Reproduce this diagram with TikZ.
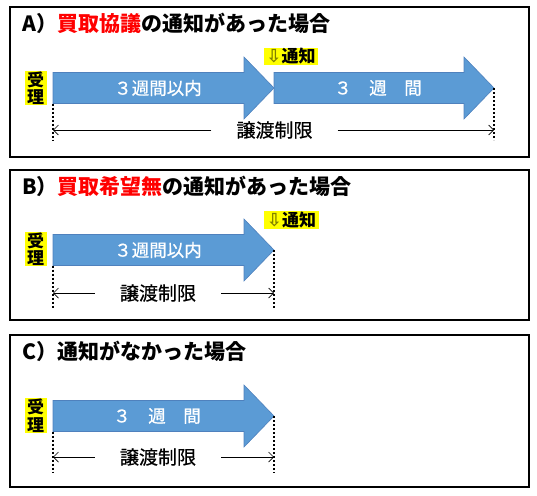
\documentclass[tikz,border=0pt]{standalone}
\usepackage{fontspec}
\setmainfont{Noto Sans CJK JP}
\newfontfamily\midfont[FakeBold=0.6]{Noto Sans CJK JP}
\newfontfamily\symfont{DejaVu Sans}
\usetikzlibrary{arrows.meta,positioning}
\definecolor{arrowblue}{HTML}{5B9BD5}
\definecolor{arrowedge}{HTML}{4F81BD}
\definecolor{mark}{HTML}{FFFF00}
\definecolor{keyword}{HTML}{FF0000}
\definecolor{markarrow}{HTML}{7F7F00}

% blue period arrow: from x, to x, middle y, name
\newcommand{\periodarrow}[4]{%
  \draw[period] (#1,#3-15.5) -- (#2-30,#3-15.5) -- (#2-30,#3-31) -- (#2,#3)
    -- (#2-30,#3+31) -- (#2-30,#3+15.5) -- (#1,#3+15.5) -- cycle;
  \coordinate (#4b) at (#1,#3+15.5);
  \coordinate (#4e) at (#2,#3);}

\begin{document}
\begin{tikzpicture}[x=1pt, y=-1pt,
  panel/.style={draw, line width=2pt},
  heading/.style={anchor=west, inner sep=0pt, font=\bfseries\fontsize{21}{22}\selectfont},
  period/.style={fill=arrowblue, draw=arrowedge, line width=0.6pt},
  inlabel/.style={text=white, font=\midfont\fontsize{17.5}{19}\selectfont},
  stamp/.style={fill=mark, inner xsep=2.5pt, inner ysep=0.5pt, align=center, font=\bfseries\fontsize{17}{17.5}\selectfont},
  limit/.style={inner xsep=25pt, font=\midfont\fontsize{19}{20}\selectfont},
  bound/.style={dotted, line width=2pt},
  dimline/.style={-{Straight Barb[length=5pt,width=10pt]}, line width=0.7pt}]
\useasboundingbox (0,0) rectangle (537,495);

% A
\draw[panel] (9.5,7) rectangle (529,157);
\node[heading] (tA) at (22,23.5) {A）\textcolor{keyword}{買取協議}の通知があった場合};
\periodarrow{53}{274}{88}{pA1}
\periodarrow{274}{494}{88}{pA2}
\node[inlabel] (wA1) at (158,88) {３週間以内};
\node[inlabel] (wA2) at (378,88) {３　週　間};
\node[stamp] (rA) at (35.5,88) {受\\理};
\node[stamp] (nA) at (291,56.5) {{\symfont\color{markarrow}\fontsize{18}{18}\selectfont⇩}通知};
\coordinate (bA1) at (53,140); \coordinate (bA2) at (494,140);
\draw[bound] (pA1b) -- (bA1); \draw[bound] (pA2e) -- (bA2);
\node[limit] (lA) at (274.5,130) {譲渡制限};
\coordinate (dA1) at (53,130); \coordinate (dA2) at (494,130);
\draw[dimline] (lA) -- (dA1); \draw[dimline] (lA) -- (dA2);

% B
\draw[panel] (9.5,170) rectangle (529,320);
\node[heading] (tB) at (22,186) {B）\textcolor{keyword}{買取希望無}の通知があった場合};
\periodarrow{53}{274}{250}{pB}
\node[inlabel] (wB) at (158,250) {３週間以内};
\node[stamp] (rB) at (35.5,249) {受\\理};
\node[stamp] (nB) at (291.5,220) {{\symfont\color{markarrow}\fontsize{18}{18}\selectfont⇩}通知};
\coordinate (bB1) at (53,308); \coordinate (bB2) at (274,308);
\draw[bound] (pBb) -- (bB1); \draw[bound] (pBe) -- (bB2);
\node[limit] (lB) at (158,293) {譲渡制限};
\coordinate (dB1) at (53,293); \coordinate (dB2) at (274,293);
\draw[dimline] (lB) -- (dB1); \draw[dimline] (lB) -- (dB2);

% C
\draw[panel] (9.5,335) rectangle (529,487);
\node[heading] (tC) at (22,351) {C）通知がなかった場合};
\periodarrow{53}{274}{416}{pC}
\node[inlabel] (wC) at (157,416) {３　週　間};
\node[stamp] (rC) at (35.5,415.5) {受\\理};
\coordinate (bC1) at (53,473); \coordinate (bC2) at (274,473);
\draw[bound] (pCb) -- (bC1); \draw[bound] (pCe) -- (bC2);
\node[limit] (lC) at (158,457) {譲渡制限};
\coordinate (dC1) at (53,457); \coordinate (dC2) at (274,457);
\draw[dimline] (lC) -- (dC1); \draw[dimline] (lC) -- (dC2);
\end{tikzpicture}
\end{document}
